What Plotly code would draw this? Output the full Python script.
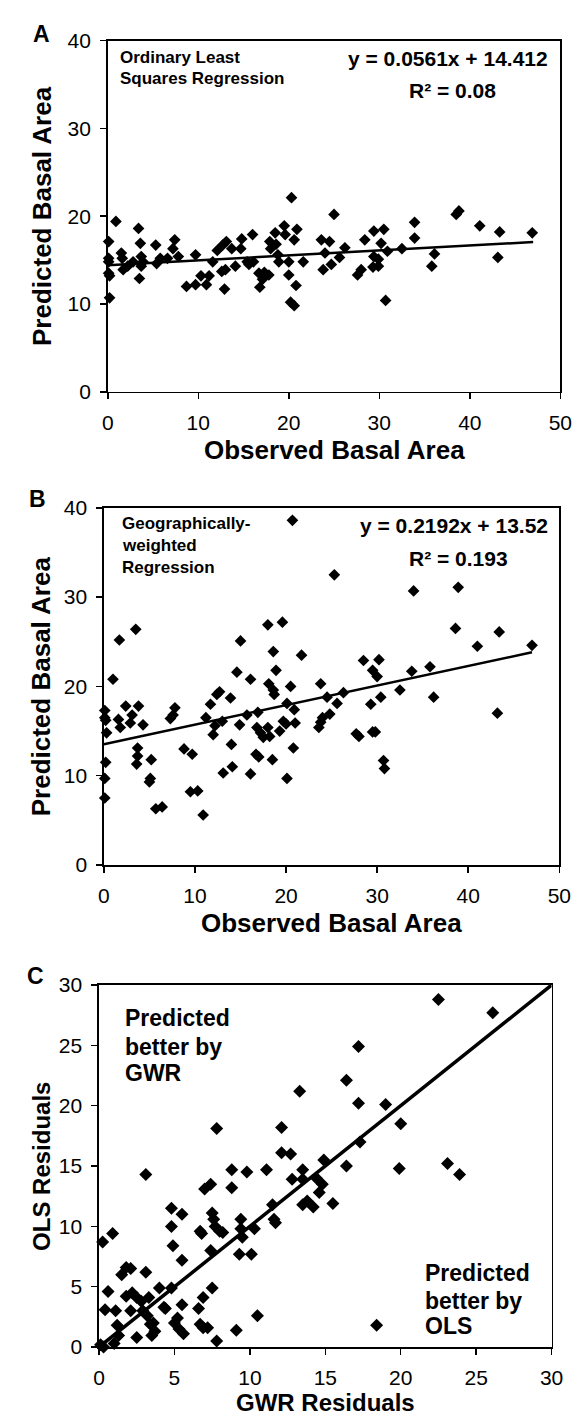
import plotly.graph_objects as go

# ---------------- data ----------------
a_obs = [0.1,0.1,0.1,0.1,0.2,0.2,0.9,1.5,1.6,1.7,
         2.2,2.8,3.4,3.6,3.7,3.7,3.5,3.9,5.3,5.4,
         5.8,6.6,7.2,7.4,7.8,8.7,9.7,9.7,10.3,10.9,
         11.2,11.6,12.1,12.6,12.7,12.9,13.1,13.0,13.7,14.1,
         14.7,14.8,15.4,15.6,16.0,16.1,16.7,16.8,17.1,17.3,
         17.8,17.9,18.0,18.5,18.6,18.8,18.9,19.5,19.6,20.0,
         20.0,20.3,20.2,20.6,20.6,20.9,20.8,21.6,23.6,23.8,
         24.0,24.5,24.7,25.0,25.6,26.2,27.6,28.0,28.4,29.3,
         29.4,29.4,29.9,29.9,30.2,30.5,30.7,30.9,32.5,33.9,
         33.9,35.8,36.1,38.5,38.8,41.1,43.3,43.1,46.9]
a_pred = [17.1,15.2,14.8,13.5,13.2,10.7,19.4,15.8,15.2,13.9,
          14.3,14.8,18.6,16.9,15.4,14.3,12.9,14.8,16.7,14.6,
          15.2,15.2,16.3,17.3,15.4,12.0,15.6,12.2,13.2,12.2,
          13.2,14.8,16.1,13.7,16.7,11.7,17.1,13.9,16.3,14.3,
          16.3,17.4,14.8,14.5,17.9,14.8,13.5,11.9,12.8,13.6,
          13.3,17.1,16.3,18.1,16.8,15.6,14.8,18.9,17.9,14.8,
          13.3,22.1,10.2,9.8,17.3,18.5,12.1,14.8,17.3,13.9,
          15.8,17.1,14.5,20.2,15.3,16.4,13.3,13.9,17.3,14.2,
          15.4,18.3,15.1,14.3,16.9,18.5,10.4,16.0,16.3,19.3,
          17.5,14.3,15.7,20.2,20.6,18.9,18.2,15.3,18.1]
a_slope, a_intercept, a_r2 = 0.0561, 14.412, "0.08"
a_line_x = [0, 47]
a_label = ["Ordinary Least", "Squares Regression"]

b_obs = [0.1,0.1,0.2,0.3,0.2,0.1,0.1,1.0,1.7,1.6,
         1.8,2.4,2.9,3.1,3.5,3.8,3.7,3.7,3.6,4.3,
         5.2,5.1,5.0,5.7,6.4,7.3,7.6,7.8,8.8,9.5,
         9.7,10.3,10.9,11.2,11.7,12.0,12.2,12.4,12.7,13.0,
         13.1,13.9,14.0,14.1,14.6,15.0,14.9,15.7,16.1,16.1,
         16.7,16.9,17.0,16.8,17.2,17.5,18.0,18.0,18.1,18.2,
         18.5,18.6,18.6,18.7,18.9,19.3,19.6,19.7,20.0,20.1,
         20.1,20.5,20.7,20.9,21.0,20.8,21.7,23.6,23.8,23.8,
         24.0,24.5,24.8,25.3,25.6,26.3,27.7,28.0,28.5,29.3,
         29.5,29.5,29.8,30.0,30.2,30.4,30.7,30.8,32.5,33.8,
         34.0,35.8,36.2,38.6,38.9,41.0,43.4,43.2,47.0]
b_pred = [17.3,16.5,16.2,14.8,11.5,9.7,7.5,20.8,25.2,16.3,
          15.4,17.8,15.9,16.8,26.4,17.8,13.1,12.2,11.3,15.7,
          11.8,9.7,9.3,6.3,6.5,16.4,16.8,17.6,13.0,8.2,
          12.4,8.3,5.6,16.5,18.0,14.6,15.6,19.1,19.4,16.1,
          10.3,18.7,13.5,11.0,21.6,25.1,15.7,16.8,10.2,20.8,
          12.4,17.1,12.1,15.4,14.8,14.3,26.9,15.4,20.3,14.4,
          11.8,23.9,19.6,19.1,21.8,15.0,27.2,16.1,15.8,9.7,
          18.1,20.0,38.6,17.4,15.9,13.1,23.5,15.4,20.3,16.0,
          16.5,18.8,16.9,32.5,18.1,19.3,14.7,14.4,22.9,18.0,
          21.8,14.9,14.9,21.1,23.0,18.8,11.7,10.8,19.6,21.7,
          30.7,22.2,18.8,26.5,31.1,24.5,26.1,17.0,24.6]
b_slope, b_intercept, b_r2 = 0.2192, 13.52, "0.193"
b_line_x = [0, 47]
b_label = ["Geographically-", "weighted", "Regression"]

c_gwr = [0.24,0.4,0.6,0.9,0.1,0.3,1.0,1.1,1.2,1.3,
         1.5,1.8,2.1,1.8,2.1,2.2,2.5,2.5,2.8,2.9,
         3.1,3.1,3.2,3.3,3.4,3.5,3.6,3.7,4.0,4.3,
         4.4,4.8,4.8,4.9,4.8,5.0,5.2,5.3,5.5,5.5,
         5.5,5.6,6.6,6.7,6.8,6.7,6.9,6.9,7.0,7.2,
         7.4,7.4,7.5,7.5,7.6,7.7,7.8,7.8,8.0,8.2,
         8.8,8.8,9.1,9.3,9.4,9.4,9.5,9.8,10.1,10.3,
         10.5,11.1,11.5,11.6,11.7,12.1,12.1,12.7,12.8,13.3,
         13.5,13.5,13.5,13.8,14.2,14.4,14.6,14.8,14.9,15.5,
         16.4,16.4,17.2,17.2,17.3,18.4,19.0,19.9,20.0,22.5,
         23.1,23.9,26.1]
c_ols = [8.7,3.1,4.6,9.4,0.2,0.0,0.3,3.0,1.8,0.95,
         6.0,6.6,3.0,4.2,6.5,4.5,4.1,0.8,3.8,3.0,
         14.3,6.2,2.6,4.1,1.9,0.95,2.0,1.3,4.9,3.3,
         3.2,11.5,10.0,8.4,4.9,2.0,2.4,1.5,11.0,3.5,
         7.2,1.1,3.2,9.6,9.4,1.9,4.1,1.6,13.1,1.6,
         13.5,8.0,4.9,11.1,10.6,10.0,18.1,0.5,9.6,9.5,
         14.7,13.2,1.4,7.7,10.6,9.8,9.1,14.5,7.7,9.8,
         2.6,14.7,11.8,10.6,10.3,18.2,16.1,16.0,13.9,21.2,
         14.7,11.8,13.9,12.1,11.6,14.0,12.8,13.5,15.5,11.9,
         15.0,22.1,24.9,20.2,17.0,1.8,20.1,14.8,18.5,28.8,
         15.2,14.3,27.7]
c_line = [0, 30]
c_label_gwr = ["Predicted", "better by", "GWR"]
c_label_ols = ["Predicted", "better by", "OLS"]

# ---------------- layout helpers ----------------
W, H = 582, 1423
FONT = "Liberation Sans, Arial, sans-serif"

def px_x(p):
    return p / W

def px_y(p):
    return 1 - p / H

fig = go.Figure()

def add_scatter(x, y, xa, ya, size):
    fig.add_trace(go.Scatter(x=x, y=y, mode="markers", xaxis=xa, yaxis=ya,
                             marker=dict(symbol="diamond", color="black", size=size,
                                         line=dict(width=0)),
                             cliponaxis=False, showlegend=False, hoverinfo="skip"))

def add_line(x, y, xa, ya, width):
    fig.add_trace(go.Scatter(x=x, y=y, mode="lines", xaxis=xa, yaxis=ya,
                             line=dict(color="black", width=width),
                             cliponaxis=False, showlegend=False, hoverinfo="skip"))

# Panel A
add_scatter(a_obs, a_pred, "x", "y", 9)
add_line(a_line_x, [a_slope * v + a_intercept for v in a_line_x], "x", "y", 2.5)
# Panel B
add_scatter(b_obs, b_pred, "x2", "y2", 9)
add_line(b_line_x, [b_slope * v + b_intercept for v in b_line_x], "x2", "y2", 2.5)
# Panel C
add_line(c_line, c_line, "x3", "y3", 3.5)
add_scatter(c_gwr, c_ols, "x3", "y3", 10)

def axis(domain, rng, dtick, anchor):
    return dict(domain=domain, range=rng, dtick=dtick, tick0=0, anchor=anchor,
                showline=True, linecolor="black", linewidth=1.6, mirror=True,
                ticks="outside", ticklen=6, tickwidth=1.5, tickcolor="black",
                showgrid=False, zeroline=False, ticklabelstandoff=5,
                tickfont=dict(family=FONT, size=21, color="black"), fixedrange=True)

# pixel boxes
A = dict(l=105, r=572, t=29, b=386)
B = dict(l=101, r=571, t=504, b=867)
C = dict(l=96, r=563, t=989, b=1357)

def dom_x(P):
    return [px_x(P["l"]), px_x(P["r"])]

def dom_y(P):
    return [px_y(P["b"]), px_y(P["t"])]

fig.update_layout(
    width=W, height=H, margin=dict(l=0, r=0, t=0, b=0),
    paper_bgcolor="white", plot_bgcolor="white",
    xaxis=axis(dom_x(A), [0, 50], 10, "y"),
    yaxis=axis(dom_y(A), [0, 40], 10, "x"),
    xaxis2=axis(dom_x(B), [0, 50], 10, "y2"),
    yaxis2=axis(dom_y(B), [0, 40], 10, "x2"),
    xaxis3=axis(dom_x(C), [0, 30], 5, "y3"),
    yaxis3=axis(dom_y(C), [0, 30], 5, "x3"),
)

ann = []

def text(x, y, s, size, xanchor="center", yanchor="middle", angle=0):
    ann.append(dict(x=px_x(x), y=px_y(y), xref="paper", yref="paper", text=s,
                    showarrow=False, xanchor=xanchor, yanchor=yanchor, textangle=angle,
                    font=dict(family=FONT, size=size, color="black")))

def lines(x, ys, strings, size):
    for yy, s in zip(ys, strings):
        text(x, yy, "<b>%s</b>" % s, size, xanchor="left")

# panel letters
text(37, 22, "<b>A</b>", 23)
text(33, 495, "<b>B</b>", 23)
text(30, 980, "<b>C</b>", 23)

# axis titles
for P in (A, B):
    text(37, (P["t"] + P["b"]) / 2, "<b>Predicted Basal Area</b>", 26, angle=-90)
    text((P["l"] + P["r"]) / 2, P["b"] + 59, "<b>Observed Basal Area</b>", 26)
text(36, (C["t"] + C["b"]) / 2, "<b>OLS Residuals</b>", 24, angle=-90)
text((C["l"] + C["r"]) / 2, C["b"] + 56, "<b>GWR Residuals</b>", 24)

# in-plot labels
lines(116, [46, 68], a_label, 17)
text(561, 47, "<b>y = %.4fx + %.3f</b>" % (a_slope, a_intercept), 21, xanchor="right")
text(461, 80, "<b>R\u00b2 = %s</b>" % a_r2, 21)

lines(118, [520, 542, 565], b_label, 17)
text(561, 522, "<b>y = %.4fx + %.2f</b>" % (b_slope, b_intercept), 21, xanchor="right")
text(467, 555, "<b>R\u00b2 = %s</b>" % b_r2, 21)

lines(121, [1023, 1052, 1078], c_label_gwr, 23)
lines(430, [1282, 1310, 1336], c_label_ols, 23)

fig.update_layout(annotations=ann)

fig.write_html("out.html", config={"displayModeBar": False, "staticPlot": True})
